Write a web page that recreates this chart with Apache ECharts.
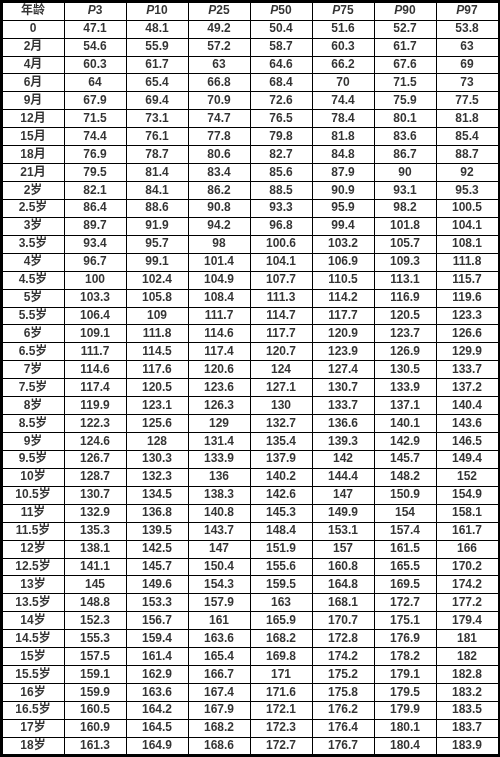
<!DOCTYPE html>
<html><head><meta charset="utf-8">
<script src="https://cdn.jsdelivr.net/npm/echarts@6/dist/echarts.min.js"></script>
<style>html,body{margin:0;padding:0;background:#fff}#c{width:500px;height:757px}</style>
</head><body><div id="c"></div>
<script>
const headers = ['年龄','P3','P10','P25','P50','P75','P90','P97'];
const ages = ['0','2月','4月','6月','9月','12月','15月','18月','21月','2岁','2.5岁','3岁','3.5岁','4岁','4.5岁','5岁','5.5岁','6岁','6.5岁','7岁','7.5岁','8岁','8.5岁','9岁','9.5岁','10岁','10.5岁','11岁','11.5岁','12岁','12.5岁','13岁','13.5岁','14岁','14.5岁','15岁','15.5岁','16岁','16.5岁','17岁','18岁'];
const P3  = [47.1,54.6,60.3,64,67.9,71.5,74.4,76.9,79.5,82.1,86.4,89.7,93.4,96.7,100,103.3,106.4,109.1,111.7,114.6,117.4,119.9,122.3,124.6,126.7,128.7,130.7,132.9,135.3,138.1,141.1,145,148.8,152.3,155.3,157.5,159.1,159.9,160.5,160.9,161.3];
const P10 = [48.1,55.9,61.7,65.4,69.4,73.1,76.1,78.7,81.4,84.1,88.6,91.9,95.7,99.1,102.4,105.8,109,111.8,114.5,117.6,120.5,123.1,125.6,128,130.3,132.3,134.5,136.8,139.5,142.5,145.7,149.6,153.3,156.7,159.4,161.4,162.9,163.6,164.2,164.5,164.9];
const P25 = [49.2,57.2,63,66.8,70.9,74.7,77.8,80.6,83.4,86.2,90.8,94.2,98,101.4,104.9,108.4,111.7,114.6,117.4,120.6,123.6,126.3,129,131.4,133.9,136,138.3,140.8,143.7,147,150.4,154.3,157.9,161,163.6,165.4,166.7,167.4,167.9,168.2,168.6];
const P50 = [50.4,58.7,64.6,68.4,72.6,76.5,79.8,82.7,85.6,88.5,93.3,96.8,100.6,104.1,107.7,111.3,114.7,117.7,120.7,124,127.1,130,132.7,135.4,137.9,140.2,142.6,145.3,148.4,151.9,155.6,159.5,163,165.9,168.2,169.8,171,171.6,172.1,172.3,172.7];
const P75 = [51.6,60.3,66.2,70,74.4,78.4,81.8,84.8,87.9,90.9,95.9,99.4,103.2,106.9,110.5,114.2,117.7,120.9,123.9,127.4,130.7,133.7,136.6,139.3,142,144.4,147,149.9,153.1,157,160.8,164.8,168.1,170.7,172.8,174.2,175.2,175.8,176.2,176.4,176.7];
const P90 = [52.7,61.7,67.6,71.5,75.9,80.1,83.6,86.7,90,93.1,98.2,101.8,105.7,109.3,113.1,116.9,120.5,123.7,126.9,130.5,133.9,137.1,140.1,142.9,145.7,148.2,150.9,154,157.4,161.5,165.5,169.5,172.7,175.1,176.9,178.2,179.1,179.5,179.9,180.1,180.4];
const P97 = [53.8,63,69,73,77.5,81.8,85.4,88.7,92,95.3,100.5,104.1,108.1,111.8,115.7,119.6,123.3,126.6,129.9,133.7,137.2,140.4,143.6,146.5,149.4,152,154.9,158.1,161.7,166,170.2,174.2,177.2,179.4,181,182,182.8,183.2,183.5,183.7,183.9];

const series = [P3,P10,P25,P50,P75,P90,P97];
const rows = ['h'].concat(ages);
const cells = [];
headers.forEach((h,i)=>cells.push({value:[i,0], text:h, head:true}));
ages.forEach((a,r)=>{
  cells.push({value:[0,r+1], text:a});
  series.forEach((s,c)=>cells.push({value:[c+1,r+1], text:String(s[r])}));
});
const FF='Liberation Sans, Arial, Noto Sans CJK SC, sans-serif';
const chart = echarts.init(document.getElementById('c'));
chart.setOption({
  animation:false,
  grid:{left:2,right:2,top:2,bottom:2},
  xAxis:{type:'category',data:headers,boundaryGap:true,
    axisLine:{show:true,lineStyle:{color:'#000',width:2}},axisTick:{show:false},axisLabel:{show:false},
    splitLine:{show:true,lineStyle:{color:'#000',width:1}}},
  yAxis:{type:'category',data:rows,inverse:true,boundaryGap:true,
    axisLine:{show:true,lineStyle:{color:'#000',width:2}},axisTick:{show:false},axisLabel:{show:false},
    splitLine:{show:true,lineStyle:{color:'#000',width:1}}},
  series:[{type:'scatter',symbolSize:0,data:cells,
    label:{show:true,position:'inside',color:'#000',fontFamily:FF,fontWeight:'bold',fontSize:12,
      formatter:p=>{
        const t=p.data.text;
        if(p.data.head && t[0]==='P') return '{i|P}{b|'+t.slice(1)+'}';
        return '{b|'+t+'}';
      },
      rich:{i:{fontStyle:'italic',fontWeight:'bold',fontSize:12,fontFamily:FF,color:'#000'},
            b:{fontWeight:'bold',fontSize:12,fontFamily:FF,color:'#000'}}}
  }],
  graphic:[{type:'rect',shape:{x:1,y:1,width:498,height:755},style:{fill:'none',stroke:'#000',lineWidth:2},silent:true}]
});
</script></body></html>
